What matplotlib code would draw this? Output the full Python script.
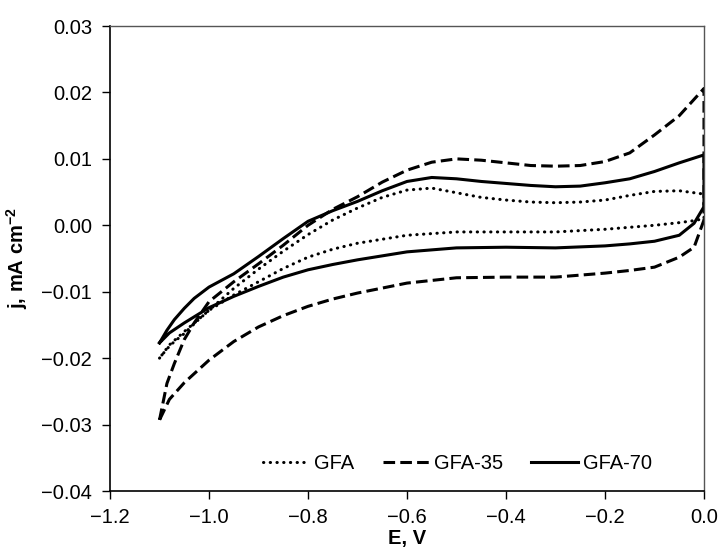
import numpy as np
import matplotlib
matplotlib.use("Agg")
import matplotlib.pyplot as plt
from matplotlib.ticker import FuncFormatter

plt.rcParams['font.family'] = ['Liberation Sans', 'DejaVu Sans']
plt.rcParams['mathtext.fontset'] = 'custom'
plt.rcParams['mathtext.rm'] = 'Liberation Sans'
plt.rcParams['mathtext.bf'] = 'Liberation Sans:bold'

# potential (V) for anodic (upper) branch, -1.1 -> 0
e_up = [-1.1, -1.085, -1.07, -1.05, -1.03, -1.0, -0.95, -0.9, -0.85, -0.8, -0.75, -0.7,
        -0.65, -0.6, -0.55, -0.5, -0.45, -0.4, -0.35, -0.3, -0.25, -0.2, -0.15, -0.1,
        -0.05, 0.0]
# potential (V) for cathodic (lower) branch, 0 -> -1.1
e_down = [0.0, -0.02, -0.05, -0.1, -0.15, -0.2, -0.3, -0.4, -0.5, -0.6, -0.7, -0.75,
          -0.8, -0.85, -0.9, -0.95, -1.0, -1.05, -1.08, -1.1]

# current density, mA cm-2
gfa_up = [-0.0200, -0.0186, -0.0175, -0.0163, -0.0148, -0.0128, -0.0095, -0.0066,
          -0.0039, -0.0014, 0.0008, 0.0026, 0.0042, 0.0053, 0.0056, 0.0049, 0.0042,
          0.0038, 0.0035, 0.0034, 0.0035, 0.0038, 0.0045, 0.0051, 0.0052, 0.0047]
gfa_down = [0.0010, 0.0007, 0.0004, 0.0000, -0.0003, -0.0006, -0.0010, -0.0010,
            -0.0010, -0.0015, -0.0027, -0.0036, -0.0048, -0.0065, -0.0085, -0.0105,
            -0.0128, -0.0160, -0.0180, -0.0200]

gfa35_up = [-0.0293, -0.0238, -0.0208, -0.0172, -0.0147, -0.0115, -0.0085, -0.0058,
            -0.0030, 0.0000, 0.0024, 0.0043, 0.0065, 0.0083, 0.0095, 0.0100, 0.0098,
            0.0094, 0.0090, 0.0089, 0.0090, 0.0096, 0.0109, 0.0136, 0.0165, 0.0206]
gfa35_down = [0.0008, -0.0033, -0.0048, -0.0063, -0.0068, -0.0072, -0.0078, -0.0078,
              -0.0079, -0.0087, -0.0102, -0.0111, -0.0122, -0.0136, -0.0153, -0.0175,
              -0.0203, -0.0237, -0.0262, -0.0293]

gfa70_up = [-0.0177, -0.0158, -0.0142, -0.0125, -0.0110, -0.0093, -0.0073, -0.0047,
            -0.0020, 0.0006, 0.0022, 0.0036, 0.0052, 0.0066, 0.0072, 0.0070, 0.0066,
            0.0063, 0.0060, 0.0058, 0.0059, 0.0064, 0.0070, 0.0081, 0.0094, 0.0106]
gfa70_down = [0.0028, 0.0003, -0.0015, -0.0024, -0.0028, -0.0031, -0.0034, -0.0033,
              -0.0034, -0.0040, -0.0052, -0.0059, -0.0067, -0.0078, -0.0092, -0.0107,
              -0.0124, -0.0147, -0.0162, -0.0177]

labels = ['GFA', 'GFA-35', 'GFA-70']

fig = plt.figure(figsize=(7.21, 5.56), dpi=100)
ax = fig.add_axes([0.1526, 0.1169, 0.8238, 0.8363])

lw = 2.2
ax.plot(e_up + e_down, gfa_up + gfa_down, color='black', lw=lw,
        linestyle=(0, (0.1, 2.1)), dash_capstyle='round', label=labels[0])
ax.plot(e_up + e_down, gfa35_up + gfa35_down, color='black', lw=lw,
        linestyle=(0, (3.8, 1.7)), label=labels[1])
ax.plot(e_up + e_down, gfa70_up + gfa70_down, color='black', lw=lw,
        linestyle='-', label=labels[2])

ax.set_xlim(-1.2, 0.0)
ax.set_ylim(-0.04, 0.03)
ax.set_xticks(np.arange(-1.2, 0.01, 0.2))
ax.set_yticks(np.arange(-0.04, 0.031, 0.01))
ax.xaxis.set_major_formatter(FuncFormatter(lambda v, p: f"{v:.1f}".replace('-', '\u2212') if abs(v) > 1e-9 else "0.0"))
ax.yaxis.set_major_formatter(FuncFormatter(lambda v, p: f"{v:.2f}".replace('-', '\u2212') if abs(v) > 1e-9 else "0.00"))

ax.tick_params(axis='both', direction='out', length=6, width=1, labelsize=14.5,
               colors='black', top=False, right=False)
ax.tick_params(axis='x', pad=6)
ax.tick_params(axis='y', pad=7)
for s in ['left', 'bottom']:
    ax.spines[s].set_linewidth(1.2)
for s in ['top', 'right']:
    ax.spines[s].set_color('#555555')
    ax.spines[s].set_linewidth(1.0)

ax.set_xlabel('E, V', fontsize=14.5, fontweight='bold', labelpad=2)
ax.set_ylabel(r'j, mA cm$^{\mathbf{-2}}$', fontsize=14.5, fontweight='bold', labelpad=8)

ax.legend(loc='lower center', bbox_to_anchor=(0.585, 0.0), ncol=3, frameon=False,
          fontsize=14.5, handlelength=2.3, handletextpad=0.25, columnspacing=1.4)

fig.savefig('out.png', dpi=100)
